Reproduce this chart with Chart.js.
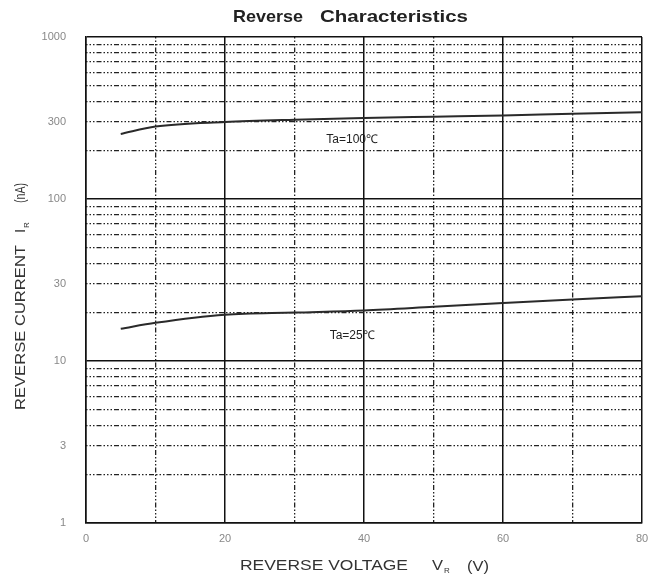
<!DOCTYPE html>
<html>
<head>
<meta charset="utf-8">
<script src="https://cdn.jsdelivr.net/npm/chart.js@4"></script>
<style>
  html, body { margin: 0; padding: 0; background: #fff; }
  #wrap { width: 665px; height: 585px; }
</style>
</head>
<body>
<div id="wrap"><canvas id="myChart" width="665" height="585"></canvas></div>
<script>
// values
const voltage = [5, 10, 20, 30, 40, 50, 60, 70, 80]
const current100 = [252, 280, 299, 309, 316, 322, 328, 336, 343]
const current25 = [15.8, 17.2, 19.3, 19.9, 20.5, 21.6, 22.8, 24, 25.1]

const xMajor = [0, 20, 40, 60, 80]
const xMinor = [10, 30, 50, 70]
const yMajor = [1, 10, 100, 1000]
const yMinor = [2, 3, 4, 5, 6, 7, 8, 9, 20, 30, 40, 50, 60, 70, 80, 90, 200, 300, 400, 500, 600, 700, 800, 900]
const yLabels = [1, 3, 10, 30, 100, 300, 1000]

const dotted = [1.5, 2, 1.5, 2, 1.5, 2, 5, 2]
const font = '"Liberation Sans", Arial, sans-serif'
const canvas = document.getElementById('myChart')

function setTicks(list) {
    return function(scale) {
        scale.ticks = list.map(v => ({ value: v }))
    }
}

// text stretched to a given width, like the scanned datasheet
function fitText(ctx, text, x, y, width) {
    const w = ctx.measureText(text).width
    ctx.save()
    ctx.translate(x, y)
    ctx.scale(width / w, 1)
    ctx.fillText(text, 0, 0)
    ctx.restore()
}

const textPlugin = {
    id: 'texts',
    afterDraw(chart) {
        const ctx = chart.ctx
        const x = chart.scales.x
        const y = chart.scales.y
        ctx.save()
        ctx.fillStyle = '#222'
        ctx.textBaseline = 'middle'
        ctx.textAlign = 'left'
        ctx.font = 'bold 17px ' + font
        fitText(ctx, 'Reverse', 233, 17, 70)
        fitText(ctx, 'Characteristics', 320, 17, 148)

        ctx.fillStyle = '#333'
        ctx.font = '15px ' + font
        fitText(ctx, 'REVERSE VOLTAGE', 240, 566, 168)
        fitText(ctx, 'V', 432, 566, 11)
        fitText(ctx, '(V)', 467, 567, 22)
        ctx.font = '8px ' + font
        ctx.fillText('R', 444, 571)

        ctx.save()
        ctx.translate(21, 0)
        ctx.rotate(-Math.PI / 2)
        ctx.font = '15px ' + font
        fitText(ctx, 'REVERSE CURRENT', -410, 0, 165)
        ctx.fillText('I', -233, 0)
        fitText(ctx, '(nA)', -203, 0, 20)
        ctx.font = '8px ' + font
        ctx.fillText('R', -228, 6)
        ctx.restore()

        ctx.font = '12px ' + font
        ctx.fillStyle = '#222'
        ctx.textAlign = 'center'
        ctx.fillText('Ta=100\u2103', x.getPixelForValue(38.3), y.getPixelForValue(231))
        ctx.fillText('Ta=25\u2103', x.getPixelForValue(38.3), y.getPixelForValue(14.3))
        ctx.restore()
    }
}

const config = {
    type: 'line',
    data: {
        datasets: [{
            label: 'Ta=100',
            data: voltage.map((v, i) => ({ x: v, y: current100[i] })),
            borderColor: '#2a2a2a',
            borderWidth: 2,
            pointRadius: 0,
            cubicInterpolationMode: 'monotone'
        }, {
            label: 'Ta=25',
            data: voltage.map((v, i) => ({ x: v, y: current25[i] })),
            borderColor: '#2a2a2a',
            borderWidth: 2,
            pointRadius: 0,
            cubicInterpolationMode: 'monotone'
        }]
    },
    options: {
        responsive: false,
        animation: false,
        layout: {
            padding: { top: 37, right: 23, left: 0, bottom: 0 }
        },
        plugins: {
            legend: { display: false },
            tooltip: { enabled: false }
        },
        scales: {
            x: {
                type: 'linear',
                min: 0, max: 80,
                afterBuildTicks: setTicks(xMajor),
                afterFit: s => { s.height = 62 },
                ticks: {
                    color: '#888',
                    font: { size: 11, family: font },
                    padding: 9
                },
                grid: { color: '#111', lineWidth: 1.5, drawTicks: false },
                border: { color: '#111', width: 1.5 }
            },
            x2: {
                type: 'linear',
                position: 'bottom',
                min: 0, max: 80,
                afterBuildTicks: setTicks(xMinor),
                afterFit: s => { s.height = 0 },
                ticks: { display: false },
                grid: { color: '#222', lineWidth: 1.3, drawTicks: false },
                border: { display: false, dash: dotted }
            },
            y: {
                type: 'logarithmic',
                min: 1, max: 1000,
                afterBuildTicks: setTicks(yMajor.concat(yLabels.filter(v => !yMajor.includes(v)))),
                afterFit: s => { s.width = 86 },
                ticks: {
                    color: '#888',
                    font: { size: 11, family: font },
                    padding: 20,
                    callback: v => String(v)
                },
                grid: {
                    color: ctx => yMajor.includes(ctx.tick && ctx.tick.value) ? '#111' : 'rgba(0,0,0,0)',
                    lineWidth: 1.5,
                    drawTicks: false
                },
                border: { color: '#111', width: 1.5 }
            },
            y2: {
                type: 'logarithmic',
                position: 'left',
                min: 1, max: 1000,
                afterBuildTicks: setTicks(yMinor),
                afterFit: s => { s.width = 0 },
                ticks: { display: false },
                grid: { color: '#222', lineWidth: 1.3, drawTicks: false },
                border: { display: false, dash: dotted }
            }
        }
    },
    plugins: [textPlugin]
}

const myChart = new Chart(canvas, config)
</script>
</body>
</html>
